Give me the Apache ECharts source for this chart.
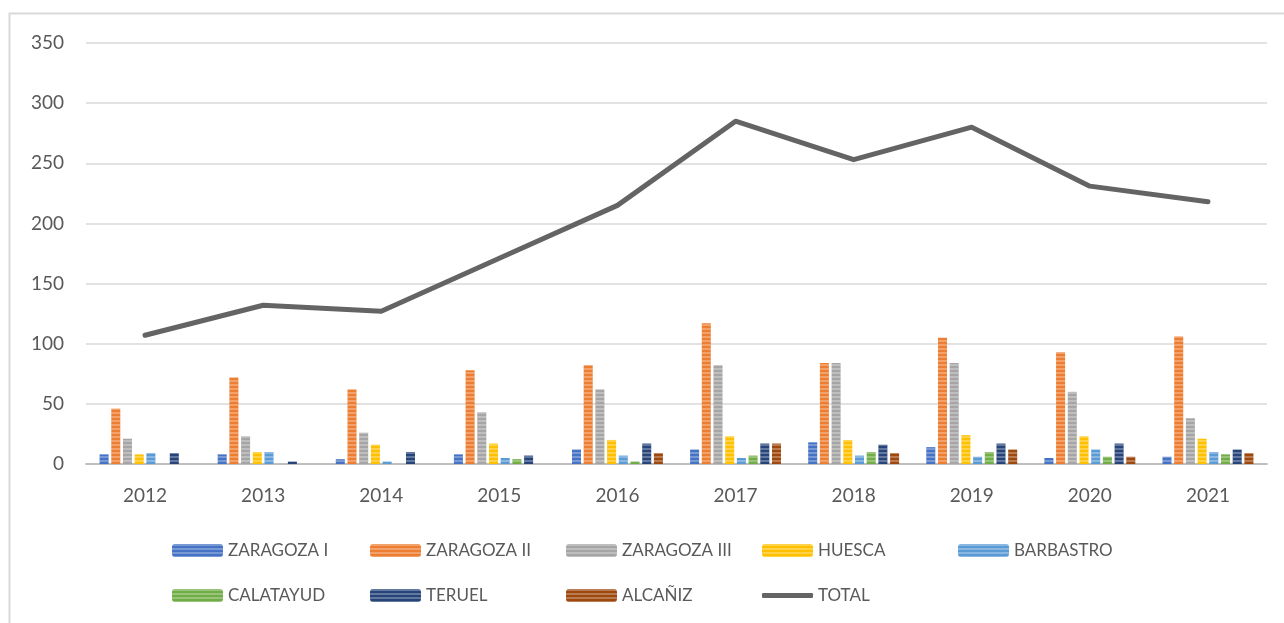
<!DOCTYPE html>
<html>
<head>
<meta charset="utf-8">
<script src="https://cdn.jsdelivr.net/npm/echarts@6/dist/echarts.min.js"></script>
<style>
  html, body { margin: 0; padding: 0; background: #fff; }
  #chart { width: 1284px; height: 623px; }
</style>
</head>
<body>
<div id="chart"></div>
<script>
// datos por año
var years = ["2012", "2013", "2014", "2015", "2016", "2017", "2018", "2019", "2020", "2021"];
var zaragoza1 = [8, 8, 4, 8, 12, 12, 18, 14, 5, 6];
var zaragoza2 = [46, 72, 62, 78, 82, 117, 84, 105, 93, 106];
var zaragoza3 = [21, 23, 26, 43, 62, 82, 84, 84, 60, 38];
var huesca = [8, 10, 16, 17, 20, 23, 20, 24, 23, 21];
var barbastro = [9, 10, 2, 5, 7, 5, 7, 6, 12, 10];
var calatayud = [0, 0, 0, 4, 2, 7, 10, 10, 6, 8];
var teruel = [9, 2, 10, 7, 17, 17, 16, 17, 17, 12];
var alcaniz = [0, 0, 0, 0, 9, 17, 9, 12, 6, 9];
var total = [107, 132, 127, 171, 215, 285, 253, 280, 231, 218];
var yTicks = [0, 50, 100, 150, 200, 250, 300, 350];

var font = "Lato";
var txtColor = "#595959";

// rayas horizontales de las barras
var stripes = {
    symbol: "rect",
    dashArrayX: [1, 0],
    dashArrayY: [2, 2],
    symbolSize: 1,
    rotation: 0,
    color: "rgba(255,255,255,0.28)"
};

function barSerie(name, data, color) {
    return {
        name: name,
        type: "bar",
        data: data,
        barWidth: 9,
        barGap: "30%",
        itemStyle: { color: color, decal: stripes }
    };
}

var series = [
    barSerie("ZARAGOZA I", zaragoza1, "#4472C4"),
    barSerie("ZARAGOZA II", zaragoza2, "#ED7D31"),
    barSerie("ZARAGOZA III", zaragoza3, "#A5A5A5"),
    barSerie("HUESCA", huesca, "#FFC000"),
    barSerie("BARBASTRO", barbastro, "#5B9BD5"),
    barSerie("CALATAYUD", calatayud, "#70AD47"),
    barSerie("TERUEL", teruel, "#264478"),
    barSerie("ALCAÑIZ", alcaniz, "#9E480E"),
    {
        name: "TOTAL",
        type: "line",
        data: total,
        symbol: "none",
        z: 5,
        lineStyle: { color: "#646464", width: 5, cap: "round", join: "round" },
        itemStyle: { color: "#646464" }
    }
];

// leyenda: posiciones fijas en dos filas
var legendPos = [
    ["ZARAGOZA I", 172, 542], ["ZARAGOZA II", 370, 542], ["ZARAGOZA III", 566, 542],
    ["HUESCA", 762, 542], ["BARBASTRO", 958, 542],
    ["CALATAYUD", 172, 587], ["TERUEL", 370, 587], ["ALCAÑIZ", 566, 587], ["TOTAL", 762, 587]
];
var legends = legendPos.map(function (p) {
    var isLine = p[0] === "TOTAL";
    return {
        data: isLine ? [{ name: p[0], icon: "roundRect" }] : [p[0]],
        left: p[1],
        top: p[2],
        padding: 0,
        itemWidth: 51,
        itemHeight: isLine ? 5 : 13,
        selectedMode: false,
        textStyle: { color: txtColor, fontSize: 17, fontFamily: font, padding: [0, 0, 0, 0] }
    };
});

var myChart = echarts.init(document.getElementById("chart"));
var option = {
    animation: false,
    backgroundColor: "#fff",
    graphic: [{
        type: "rect",
        shape: { x: 9.5, y: 13.5, width: 1300, height: 640 },
        style: { fill: null, stroke: "#D9D9D9", lineWidth: 2 },
        silent: true
    }],
    legend: legends,
    grid: { left: 86, right: 17, top: 43, bottom: 159 },
    xAxis: {
        type: "category",
        data: years,
        axisTick: { show: false },
        axisLine: { lineStyle: { color: "#BFBFBF", width: 2 } },
        axisLabel: { color: txtColor, fontSize: 19, fontFamily: font, margin: 22 }
    },
    yAxis: {
        type: "value",
        min: yTicks[0],
        max: yTicks[yTicks.length - 1],
        interval: 50,
        axisLine: { show: false },
        axisTick: { show: false },
        axisLabel: { color: txtColor, fontSize: 19, fontFamily: font, margin: 22 },
        splitLine: { lineStyle: { color: "#D9D9D9", width: 1.5 } }
    },
    series: series
};
myChart.setOption(option);
</script>
</body>
</html>
